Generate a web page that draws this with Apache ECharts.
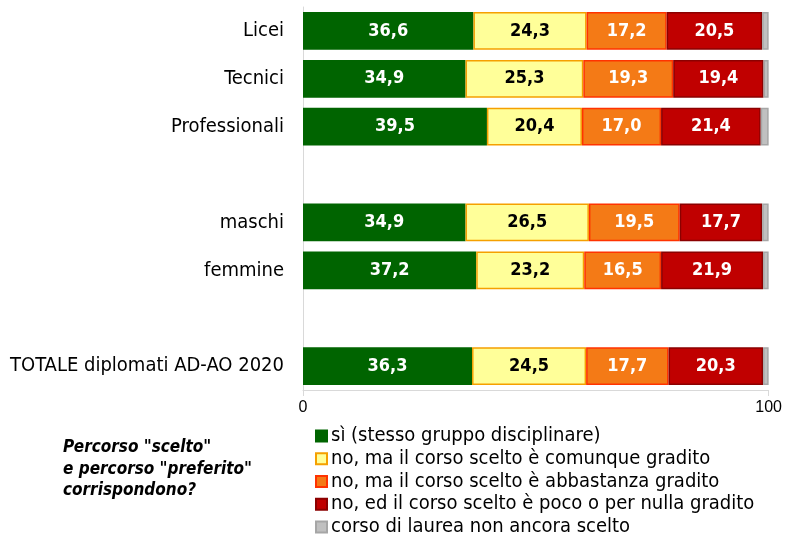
<!DOCTYPE html>
<html>
<head>
<meta charset="utf-8">
<script src="https://cdn.jsdelivr.net/npm/echarts@6/dist/echarts.min.js"></script>
<style>
  html, body { margin: 0; padding: 0; background: #fff; }
  #chart { width: 785px; height: 536px; }
</style>
</head>
<body>
<div id="chart"></div>
<script>
  // categories (empty strings are the spacer rows)
  var categories = ['Licei', 'Tecnici', 'Professionali', '', 'maschi', 'femmine', '', 'TOTALE diplomati AD-AO 2020'];
  var seriesNames = [
    'sì (stesso gruppo disciplinare)',
    'no, ma il corso scelto è comunque gradito',
    'no, ma il corso scelto è abbastanza gradito',
    'no, ed il corso scelto è poco o per nulla gradito',
    'corso di laurea non ancora scelto'
  ];
  var si       = [36.6, 34.9, 39.5, '-', 34.9, 37.2, '-', 36.3];
  var comunque = [24.3, 25.3, 20.4, '-', 26.5, 23.2, '-', 24.5];
  var abbast   = [17.2, 19.3, 17.0, '-', 19.5, 16.5, '-', 17.7];
  var poco     = [20.5, 19.4, 21.4, '-', 17.7, 21.9, '-', 20.3];
  var nonScelto = [1.4, 1.1, 1.7, '-', 1.4, 1.2, '-', 1.2];

  var font = '"DejaVu Sans Condensed", "DejaVu Sans", sans-serif';

  var fills   = ['#006400', '#FFFF99', '#F47A16', '#C00000', '#C0C0C0'];
  var borders = ['#006400', '#F5A000', '#FF3300', '#8B0000', '#A6A6A6'];
  var labelColors = ['#fff', '#000', '#fff', '#fff', null];
  var allData = [si, comunque, abbast, poco, nonScelto];

  var series = allData.map(function (d, i) {
    return {
      name: seriesNames[i],
      type: 'bar',
      stack: 'tot',
      barCategoryGap: '21%',
      data: d,
      itemStyle: { color: fills[i], borderColor: borders[i], borderWidth: 1.5 },
      label: {
        show: labelColors[i] !== null,
        position: 'inside',
        color: labelColors[i] || '#000',
        fontFamily: font,
        fontWeight: 'bold',
        fontSize: 18,
        formatter: function (p) { return p.value.toFixed(1).replace('.', ','); }
      }
    };
  });

  var chart = echarts.init(document.getElementById('chart'));
  chart.setOption({
    animation: false,
    textStyle: { fontFamily: font },
    grid: { left: 303, right: 16, top: 7, bottom: 146, containLabel: false },
    xAxis: {
      type: 'value',
      min: 0, max: 100, interval: 100,
      splitLine: { show: false },
      axisLine: { show: true, lineStyle: { color: '#d9d9d9' } },
      axisTick: { show: true, length: 6, lineStyle: { color: '#d9d9d9' } },
      axisLabel: { color: '#000', fontSize: 16, fontFamily: '"Liberation Sans", Arial, sans-serif', margin: 10 }
    },
    yAxis: {
      type: 'category',
      inverse: true,
      data: categories,
      axisLine: { show: true, lineStyle: { color: '#d9d9d9' } },
      axisTick: { show: false },
      axisLabel: { color: '#000', fontSize: 20, margin: 19, fontFamily: font }
    },
    legend: {
      orient: 'vertical',
      left: 315, top: 426, height: 200,
      padding: 0,
      itemWidth: 11, itemHeight: 11, itemGap: 2.75,
      icon: 'rect',
      textStyle: { color: '#000', fontSize: 20, fontFamily: font, padding: [0, 0, 0, -1] },
      data: seriesNames
    },
    graphic: [{
      type: 'text',
      left: 63, top: 437,
      style: {
        text: 'Percorso "scelto"\ne percorso "preferito"\ncorrispondono?',
        font: 'italic bold 17px ' + font,
        lineHeight: 21.5,
        fill: '#000'
      }
    }],
    series: series
  });
</script>
</body>
</html>
